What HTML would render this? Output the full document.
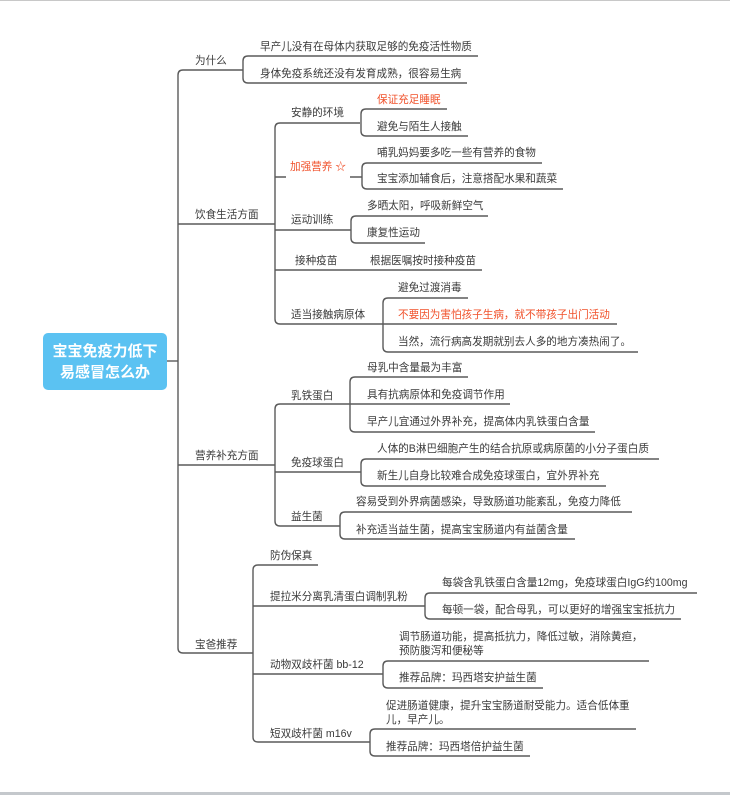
<!DOCTYPE html>
<html><head><meta charset="utf-8"><style>
html,body{margin:0;padding:0;background:#fff;width:730px;height:795px;overflow:hidden}
svg{display:block}
text{font-family:"Liberation Sans","Noto Sans CJK SC",sans-serif;font-size:10.6px;fill:#3a3a3a}
.r{fill:#f0502a}
.l{fill:none;stroke:#5a5a5a;stroke-width:1.4}
</style></head><body>
<svg width="730" height="795" viewBox="0 0 730 795" xmlns="http://www.w3.org/2000/svg">
<rect x="0" y="0" width="730" height="1" fill="#c8c8c8"/>
<rect x="0" y="792" width="730" height="3" fill="#c4c8cc"/>
<rect x="43" y="333" width="124" height="57" rx="5" fill="#5bc2f2"/>
<text x="105" y="356" text-anchor="middle" style="font-size:15px;font-weight:bold;fill:#fff">宝宝免疫力低下</text>
<text x="105" y="377" text-anchor="middle" style="font-size:15px;font-weight:bold;fill:#fff">易感冒怎么办</text>

<path class="l" d="M167 361 H178"/>
<path class="l" d="M243 70 H183 Q178 70 178 75 V648 Q178 653 183 653 H253"/>
<path class="l" d="M178 224 H275 M178 465 H275"/>

<text x="195" y="64">为什么</text>
<path class="l" d="M478 56 H248 Q243 56 243 61 V78 Q243 83 248 83 H467"/>
<text x="260" y="50">早产儿没有在母体内获取足够的免疫活性物质</text>
<text x="260" y="77">身体免疫系统还没有发育成熟，很容易生病</text>

<text x="195" y="218">饮食生活方面</text>
<path class="l" d="M360 123 H280 Q275 123 275 128 V319 Q275 324 280 324 H383"/>
<path class="l" d="M275 177 H286 M350 177 H362 M275 230 H351 M275 270 H482"/>
<text x="291" y="116">安静的环境</text>
<path class="l" d="M447 109 H366 Q361 109 361 114 V131 Q361 136 366 136 H468"/>
<text x="377" y="103" class="r">保证充足睡眠</text>
<text x="377" y="130">避免与陌生人接触</text>
<text x="290" y="170" class="r">加强营养 ☆</text>
<path class="l" d="M542 163 H367 Q362 163 362 168 V184 Q362 189 367 189 H563"/>
<text x="377" y="156">哺乳妈妈要多吃一些有营养的食物</text>
<text x="377" y="182">宝宝添加辅食后，注意搭配水果和蔬菜</text>
<text x="291" y="223">运动训练</text>
<path class="l" d="M488 216 H356 Q351 216 351 221 V238 Q351 243 356 243 H425"/>
<text x="367" y="209">多晒太阳，呼吸新鲜空气</text>
<text x="367" y="236">康复性运动</text>
<text x="295" y="264">接种疫苗</text>
<text x="370" y="264">根据医嘱按时接种疫苗</text>
<text x="291" y="318">适当接触病原体</text>
<path class="l" d="M468 298 H388 Q383 298 383 303 V347 Q383 352 388 352 H638 M383 324 H617"/>
<text x="398" y="291">避免过渡消毒</text>
<text x="398" y="318" class="r">不要因为害怕孩子生病，就不带孩子出门活动</text>
<text x="398" y="345">当然，流行病高发期就别去人多的地方凑热闹了。</text>

<text x="195" y="459">营养补充方面</text>
<path class="l" d="M350 404 H280 Q275 404 275 409 V521 Q275 526 280 526 H340 M275 472 H361"/>
<text x="291" y="399">乳铁蛋白</text>
<path class="l" d="M468 377 H355 Q350 377 350 382 V427 Q350 432 355 432 H595 M350 404 H510"/>
<text x="367" y="371">母乳中含量最为丰富</text>
<text x="367" y="398">具有抗病原体和免疫调节作用</text>
<text x="367" y="425">早产儿宜通过外界补充，提高体内乳铁蛋白含量</text>
<text x="291" y="466">免疫球蛋白</text>
<path class="l" d="M659 459 H366 Q361 459 361 464 V481 Q361 486 366 486 H606"/>
<text x="377" y="452">人体的B淋巴细胞产生的结合抗原或病原菌的小分子蛋白质</text>
<text x="377" y="479">新生儿自身比较难合成免疫球蛋白，宜外界补充</text>
<text x="291" y="520">益生菌</text>
<path class="l" d="M632 512 H345 Q340 512 340 517 V534 Q340 539 345 539 H575"/>
<text x="356" y="505">容易受到外界病菌感染，导致肠道功能紊乱，免疫力降低</text>
<text x="356" y="533">补充适当益生菌，提高宝宝肠道内有益菌含量</text>

<text x="195" y="648">宝爸推荐</text>
<path class="l" d="M318 565 H258 Q253 565 253 570 V737 Q253 742 258 742 H370 M253 606 H425 M253 674 H383"/>
<text x="270" y="559">防伪保真</text>
<text x="270" y="600">提拉米分离乳清蛋白调制乳粉</text>
<path class="l" d="M697 593 H430 Q425 593 425 598 V614 Q425 619 430 619 H681"/>
<text x="442" y="586">每袋含乳铁蛋白含量12mg，免疫球蛋白IgG约100mg</text>
<text x="442" y="613">每顿一袋，配合母乳，可以更好的增强宝宝抵抗力</text>
<text x="270" y="668">动物双歧杆菌 bb-12</text>
<path class="l" d="M649 661 H388 Q383 661 383 666 V683 Q383 688 388 688 H543"/>
<text x="399" y="640">调节肠道功能，提高抵抗力，降低过敏，消除黄疸，</text>
<text x="399" y="654">预防腹泻和便秘等</text>
<text x="399" y="681">推荐品牌：玛西塔安护益生菌</text>
<text x="270" y="737">短双歧杆菌 m16v</text>
<path class="l" d="M636 729 H375 Q370 729 370 734 V751 Q370 756 375 756 H530"/>
<text x="386" y="709">促进肠道健康，提升宝宝肠道耐受能力。适合低体重</text>
<text x="386" y="723">儿，早产儿。</text>
<text x="386" y="750">推荐品牌：玛西塔倍护益生菌</text>
</svg>
</body></html>
